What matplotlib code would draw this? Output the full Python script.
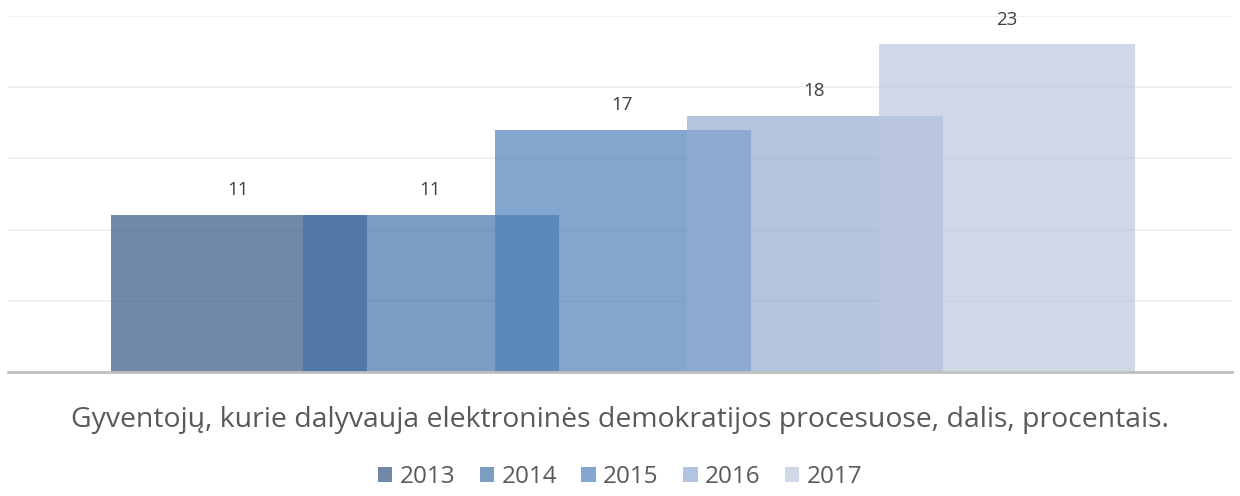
import matplotlib
matplotlib.use("Agg")
import matplotlib.pyplot as plt
from matplotlib.patches import Patch

categories = ["Gyventojų, kurie dalyvauja elektroninės demokratijos procesuose, dalis, procentais."]
series = ["2013", "2014", "2015", "2016", "2017"]
values = [11, 11, 17, 18, 23]
colors = ["#365683", "#4572a8", "#4e81ba", "#92abd0", "#bdc7de"]
alpha = 0.7

plt.rcParams['font.family'] = ['Open Sans', 'DejaVu Sans']

fig = plt.figure(figsize=(12.4, 4.96), dpi=100)
ax = fig.add_axes([8/1240, 1-372/496, 1224/1240, 356/496])

plot_w = 1224.0
width = 256/plot_w
step = 192/plot_w
shift = 2.5/plot_w
for i, (s, v, c) in enumerate(zip(series, values, colors)):
    x = (i-2)*step + shift
    ax.bar(x, v, width=width, color=c, alpha=alpha, zorder=2+i, linewidth=0)
    ax.text(x, v + 1.75, str(v), ha='center', va='center', fontsize=13.5, color='#404040', zorder=10)

ax.set_xlim(-0.5, 0.5)
ax.set_ylim(0, 25)
ax.set_yticks([0, 5, 10, 15, 20, 25])
ax.yaxis.grid(True, color='#efefef', linewidth=1.3, zorder=0)
ax.set_axisbelow(True)
ax.tick_params(left=False, bottom=False, labelleft=False, labelbottom=False)
for sp in ['top', 'right', 'left']:
    ax.spines[sp].set_visible(False)
ax.spines['bottom'].set_color('#bfbfbf')
ax.spines['bottom'].set_linewidth(2)
ax.spines['bottom'].set_zorder(20)

fig.text(0.5, 1-420/496, categories[0], ha='center', va='center', fontsize=20.4, color='#595959')

handles = [Patch(facecolor=c, alpha=alpha, edgecolor='none') for c in colors]
fig.legend(handles, series, loc='center', bbox_to_anchor=(0.5, 1-477/496), ncol=5, frameon=False,
           fontsize=17.5, labelcolor='#595959', handlelength=0.6, handleheight=0.6, handletextpad=0.3,
           columnspacing=1.0)

fig.savefig("out.png", dpi=100)
